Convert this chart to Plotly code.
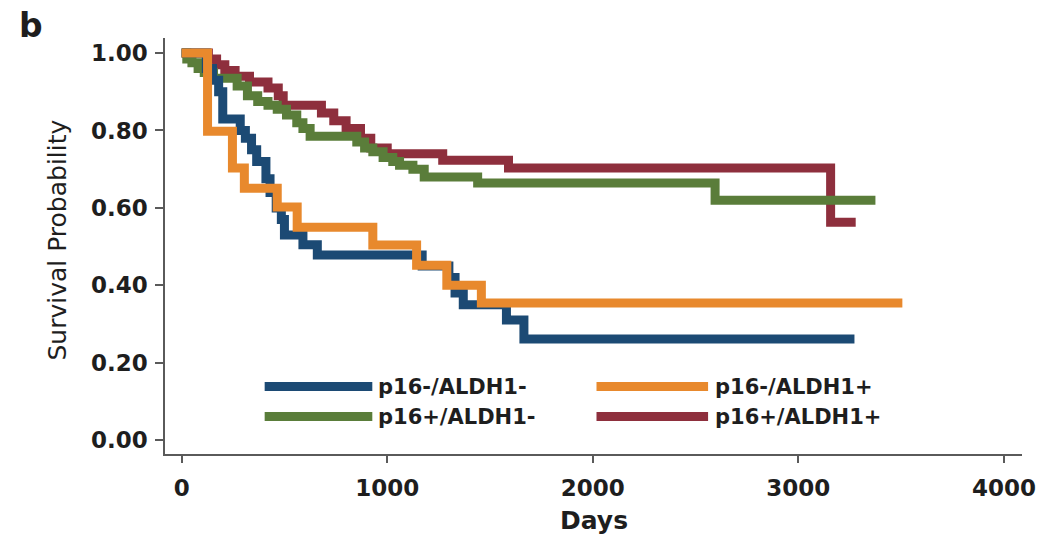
import plotly.graph_objects as go

# Kaplan-Meier survival estimates by p16 / ALDH1 status (days, survival probability)
blue_days = [0, 120, 150, 180, 200, 285, 310, 340, 365, 410, 430, 460, 485, 500, 590, 660,
             1170, 1300, 1330, 1370, 1580, 1665, 3273]
blue_surv = [1.0, 0.96, 0.93, 0.90, 0.83, 0.80, 0.78, 0.75, 0.72, 0.675, 0.64, 0.60, 0.57, 0.53,
             0.505, 0.478, 0.45, 0.42, 0.38, 0.35, 0.31, 0.261, 0.261]

orange_days = [0, 126, 247, 305, 465, 562, 930, 1143, 1290, 1458, 3506]
orange_surv = [1.0, 0.798, 0.703, 0.651, 0.602, 0.550, 0.504, 0.452, 0.400, 0.354, 0.354]

green_days = [0, 25, 50, 80, 110, 155, 270, 320, 370, 420, 465, 510, 560, 590, 625, 852, 890,
              930, 980, 1027, 1060, 1125, 1180, 1440, 2595, 3375]
green_surv = [1.0, 0.985, 0.975, 0.96, 0.95, 0.935, 0.915, 0.89, 0.875, 0.865, 0.855, 0.84, 0.82,
              0.805, 0.785, 0.77, 0.755, 0.745, 0.73, 0.72, 0.71, 0.70, 0.68, 0.664, 0.62, 0.62]

red_days = [0, 130, 170, 210, 260, 330, 420, 470, 494, 680, 740, 800, 870, 920, 1000, 1270, 1590,
            3157, 3279]
red_surv = [1.0, 0.985, 0.97, 0.955, 0.94, 0.925, 0.91, 0.89, 0.865, 0.845, 0.825, 0.805, 0.78,
            0.755, 0.74, 0.723, 0.703, 0.563, 0.563]

group_names = ["p16-/ALDH1-", "p16-/ALDH1+", "p16+/ALDH1-", "p16+/ALDH1+"]
colors = {"p16-/ALDH1-": "#1c4a74", "p16-/ALDH1+": "#e8892d",
          "p16+/ALDH1-": "#5a7d3a", "p16+/ALDH1+": "#8e2f3d"}
series = {"p16-/ALDH1-": (blue_days, blue_surv), "p16-/ALDH1+": (orange_days, orange_surv),
          "p16+/ALDH1-": (green_days, green_surv), "p16+/ALDH1+": (red_days, red_surv)}

x_ticks = [0, 1000, 2000, 3000, 4000]
y_ticks = [0.0, 0.2, 0.4, 0.6, 0.8, 1.0]

LINE_W = 9
AXIS_COLOR = "#5a5a5a"
TEXT_COLOR = "#1e1e1e"

fig = go.Figure()
draw_order = ["p16+/ALDH1+", "p16+/ALDH1-", "p16-/ALDH1-", "p16-/ALDH1+"]
for name in draw_order:
    d, s = series[name]
    fig.add_trace(go.Scatter(x=d, y=s, mode="lines", name=name, line_shape="hv",
                             line=dict(color=colors[name], width=LINE_W), showlegend=False,
                             hoverinfo="x+y+name"))

# Two-column legend inside the plot area
legend_rows = [0.162, 0.090]
legend_cols = [(0.1163, 0.2419, 0.2465), (0.5035, 0.6337, 0.6395)]
for i, name in enumerate(group_names):
    row, col = divmod(i, 2)
    x0, x1, xt = legend_cols[col]
    y = legend_rows[row]
    fig.add_shape(type="line", xref="paper", yref="paper", x0=x0, x1=x1, y0=y, y1=y,
                  line=dict(color=colors[name], width=LINE_W))
    fig.add_annotation(xref="paper", yref="paper", x=xt, y=y, text=name, showarrow=False,
                       xanchor="left", yanchor="middle",
                       font=dict(family="DejaVu Sans", size=21, weight="bold", color=TEXT_COLOR))

fig.add_annotation(xref="paper", yref="paper", x=-0.1256, y=0.514, text="Survival Probability",
                   textangle=-90, showarrow=False, xanchor="center", yanchor="middle",
                   font=dict(family="DejaVu Sans", size=25, color=TEXT_COLOR))
fig.add_annotation(xref="paper", yref="paper", x=0.501, y=-0.159, text="Days",
                   showarrow=False, xanchor="center", yanchor="middle",
                   font=dict(family="DejaVu Sans", size=25, weight="bold", color=TEXT_COLOR))
fig.add_annotation(xref="paper", yref="paper", x=-0.156, y=1.030, text="b",
                   showarrow=False, xanchor="center", yanchor="middle",
                   font=dict(family="DejaVu Sans", size=33, weight="bold", color=TEXT_COLOR))

tick_font = dict(family="DejaVu Sans", size=23, weight="bold", color=TEXT_COLOR)
fig.update_xaxes(range=[-81, 4088], tickvals=x_ticks, ticktext=[str(v) for v in x_ticks],
                 showgrid=False, zeroline=False, showline=True, linecolor=AXIS_COLOR,
                 linewidth=1.5, ticks="outside", ticklen=7, tickwidth=1.5,
                 tickcolor=AXIS_COLOR, tickfont=tick_font, ticklabelstandoff=6)
fig.update_yaxes(range=[-0.036, 1.039], tickvals=y_ticks, tickformat=".2f",
                 showgrid=False, zeroline=False, showline=True, linecolor=AXIS_COLOR,
                 linewidth=1.5, ticks="outside", ticklen=8, tickwidth=1.5,
                 tickcolor=AXIS_COLOR, tickfont=tick_font, ticklabelstandoff=3)

fig.update_layout(width=1048, height=537, margin=dict(l=165, r=23, t=38, b=83),
                  plot_bgcolor="white", paper_bgcolor="white")

fig.write_html("out.html")
